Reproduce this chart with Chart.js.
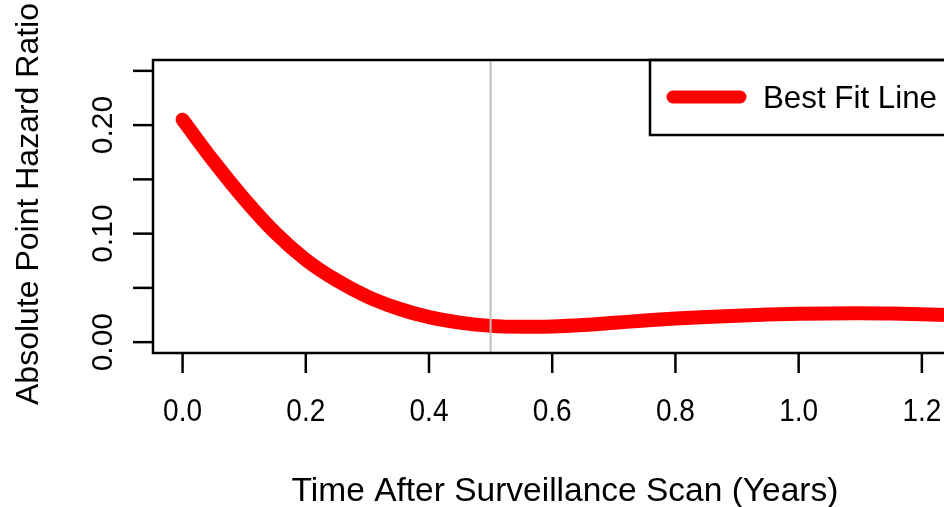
<!DOCTYPE html>
<html>
<head>
<meta charset="utf-8">
<script src="https://cdn.jsdelivr.net/npm/chart.js@4.4.1/dist/chart.umd.min.js"></script>
<style>
  html, body { margin: 0; padding: 0; background: #fff; overflow: hidden; }
  #wrap { width: 944px; height: 507px; overflow: hidden; }
</style>
</head>
<body>
<div id="wrap"><canvas id="hazardChart" width="990" height="507"></canvas></div>
<script>
// Hazard ratio fit
const timeYears = [0, 0.05, 0.10, 0.15, 0.20, 0.25, 0.30, 0.35, 0.40, 0.45, 0.50, 0.55, 0.60,
    0.65, 0.70, 0.75, 0.80, 0.85, 0.90, 0.95, 1.00, 1.05, 1.10, 1.15, 1.20, 1.24];
const hazardRatio = [0.205, 0.167, 0.132, 0.101, 0.076, 0.057, 0.042, 0.031, 0.023, 0.018, 0.015, 0.0142, 0.0145,
    0.0158, 0.0178, 0.0199, 0.0217, 0.0232, 0.0244, 0.0254, 0.0261, 0.0265, 0.0266, 0.0263, 0.0257, 0.0250];
const xTicks = [0, 0.2, 0.4, 0.6, 0.8, 1.0, 1.2];
const xTickLabels = ['0.0', '0.2', '0.4', '0.6', '0.8', '1.0', '1.2'];
const yTicks = [0, 0.05, 0.10, 0.15, 0.20, 0.25];
const yTickLabels = ['0.00', '', '0.10', '', '0.20', ''];
const scanLineAt = 0.5;
const seriesLabel = 'Best Fit Line';
const xTitle = 'Time After Surveillance Scan (Years)';
const yTitle = 'Absolute Point Hazard Ratio';

const FONT = '"Liberation Sans", Arial, Helvetica, sans-serif';

// R base-graphics style box, axes, labels, abline and legend
const rStyle = {
    id: 'rStyle',
    afterDatasetsDraw(chart) {
        const ctx = chart.ctx;
        const a = chart.chartArea;
        const xs = chart.scales.x, ys = chart.scales.y;
        ctx.save();

        // vertical reference line (drawn over the curve)
        const vx = xs.getPixelForValue(scanLineAt);
        ctx.strokeStyle = '#bebebe';
        ctx.lineWidth = 2;
        ctx.beginPath();
        ctx.moveTo(vx, a.top);
        ctx.lineTo(vx, a.bottom);
        ctx.stroke();

        // plot box
        ctx.strokeStyle = '#000';
        ctx.lineWidth = 2.5;
        ctx.strokeRect(a.left, a.top, a.right - a.left, a.bottom - a.top);

        // x ticks (glyphs a little taller than wide, as in the reference)
        ctx.fillStyle = '#000';
        ctx.font = '28px ' + FONT;
        ctx.textAlign = 'center';
        ctx.textBaseline = 'alphabetic';
        xTicks.forEach((v, i) => {
            const px = xs.getPixelForValue(v);
            ctx.beginPath();
            ctx.moveTo(px, a.bottom);
            ctx.lineTo(px, a.bottom + 20);
            ctx.stroke();
            ctx.save();
            ctx.translate(px, 421);
            ctx.scale(1, 1.1);
            ctx.fillText(xTickLabels[i], 0, 0);
            ctx.restore();
        });

        // y ticks, labels parallel to the axis
        ctx.font = '30px ' + FONT;
        yTicks.forEach((v, i) => {
            const py = ys.getPixelForValue(v);
            ctx.beginPath();
            ctx.moveTo(a.left, py);
            ctx.lineTo(a.left - 20, py);
            ctx.stroke();
            if (yTickLabels[i]) {
                ctx.save();
                ctx.translate(112, py);
                ctx.rotate(-Math.PI / 2);
                ctx.fillText(yTickLabels[i], 0, 0);
                ctx.restore();
            }
        });

        // axis titles
        ctx.font = '33.5px ' + FONT;
        ctx.fillText(xTitle, (a.left + a.right) / 2, 501);
        ctx.font = '32px ' + FONT;
        ctx.save();
        ctx.translate(38, 204);
        ctx.rotate(-Math.PI / 2);
        ctx.fillText(yTitle, 0, 0);
        ctx.restore();

        // legend, top right of plot region
        const lx = 650, ly = a.top;
        ctx.lineWidth = 2.5;
        ctx.strokeRect(lx, ly, a.right - lx, 75);
        ctx.strokeStyle = '#ff0000';
        ctx.lineWidth = 13;
        ctx.lineCap = 'round';
        ctx.beginPath();
        ctx.moveTo(673, ly + 37);
        ctx.lineTo(740, ly + 37);
        ctx.stroke();
        ctx.font = '31.3px ' + FONT;
        ctx.textAlign = 'left';
        ctx.textBaseline = 'middle';
        ctx.fillText(seriesLabel, 763, ly + 39);

        ctx.restore();
    }
};

new Chart(document.getElementById('hazardChart'), {
    type: 'line',
    data: {
        datasets: [{
            label: seriesLabel,
            data: timeYears.map((t, i) => ({ x: t, y: hazardRatio[i] })),
            borderColor: '#ff0000',
            borderWidth: 14,
            borderCapStyle: 'round',
            borderJoinStyle: 'round',
            cubicInterpolationMode: 'monotone',
            pointRadius: 0,
            fill: false
        }]
    },
    options: {
        responsive: false,
        animation: false,
        layout: { padding: { left: 153, top: 60, right: 13, bottom: 154 } },
        scales: {
            x: { type: 'linear', min: -0.048, max: 1.2895, display: false },
            y: { type: 'linear', min: -0.01, max: 0.26, display: false }
        },
        plugins: { legend: { display: false }, tooltip: { enabled: false } }
    },
    plugins: [rStyle]
});
</script>
</body>
</html>
